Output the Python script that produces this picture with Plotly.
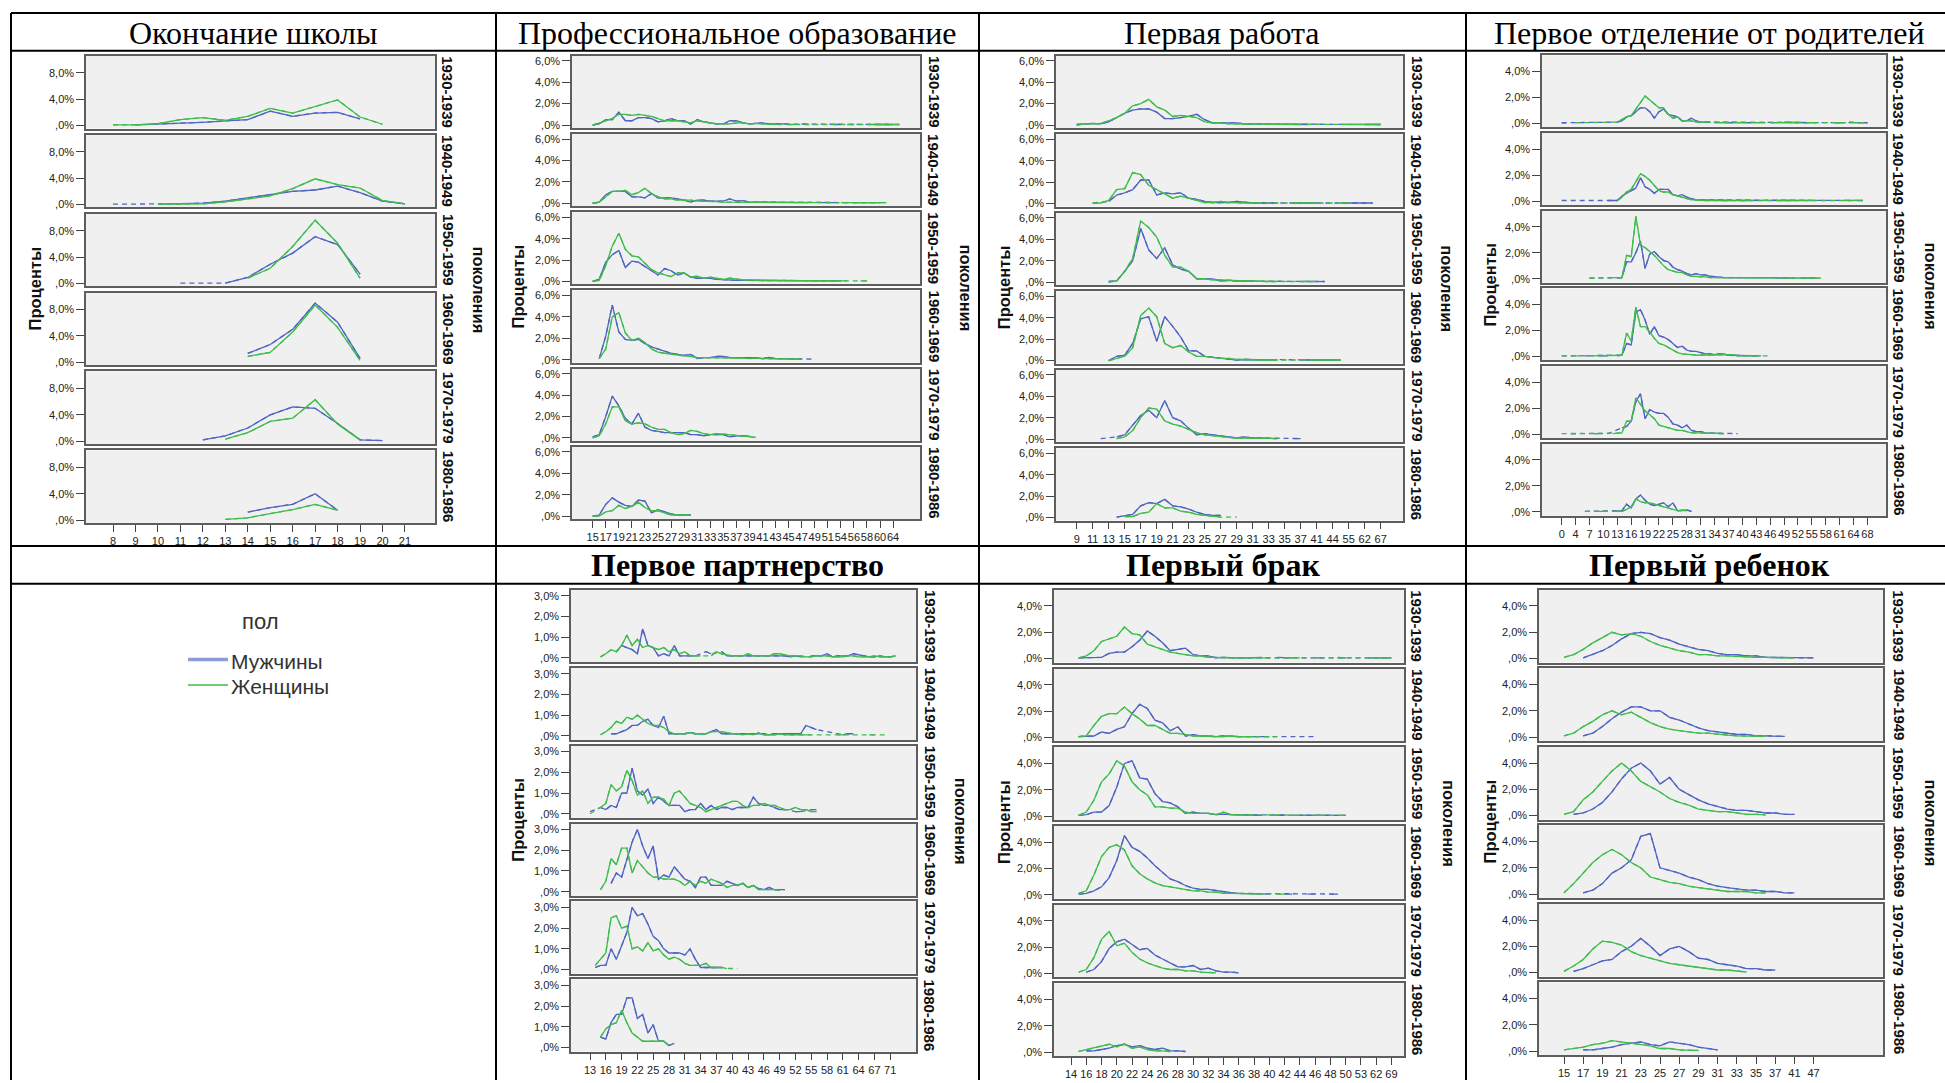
import plotly.graph_objects as go

W, H = 1945, 1083
N = None

COHORTS = ["1930-1939", "1940-1949", "1950-1959", "1960-1969", "1970-1979", "1980-1986"]
SEX_NAMES = ["Мужчины", "Женщины"]
LEGEND_TITLE = "пол"
Y_TITLE = "Проценты"
ROW_TITLE = "поколения"
MALE_COLOR = "#5165c3"
FEMALE_COLOR = "#3fbd4c"

# ---------------- Окончание школы ----------------
SCHOOL_AGES = [8, 9, 10, 11, 12, 13, 14, 15, 16, 17, 18, 19, 20, 21]
SCHOOL_M = [
    [N, 0.1, 0.2, 0.3, 0.5, 0.7, 0.9, 2.2, 1.4, 1.9, 2.0, 1.0],
    [0.05, N, 0.05, 0.1, 0.2, 0.5, 1.0, 1.5, 2.0, 2.2, 2.8, 1.8, 0.5, 0.1],
    [N, N, N, 0.05, N, 0.05, 0.9, 2.9, 4.6, 7.1, 5.9, 1.4],
    [N, N, N, N, N, N, 1.35, 2.7, 5.0, 9.0, 6.1, 0.6],
    [N, N, N, N, 0.2, 0.8, 2.0, 4.0, 5.2, 5.0, 2.7, 0.2, 0.1],
    [N, N, N, N, N, N, 1.2, 1.9, 2.4, 4.0, 1.5],
]
SCHOOL_F = [
    [0.1, 0.1, 0.3, 0.9, 1.2, 0.8, 1.4, 2.6, 1.9, 2.9, 3.9, 1.3, 0.2],
    [N, N, 0.05, 0.05, 0.1, 0.4, 0.8, 1.3, 2.4, 3.9, 3.0, 2.5, 0.6, 0.1],
    [N, N, N, N, N, N, 0.8, 2.3, 5.6, 9.6, 6.1, 0.8],
    [N, N, N, N, N, N, 0.9, 1.5, 4.6, 8.7, 5.3, 0.3],
    [N, N, N, N, N, 0.3, 1.3, 3.0, 3.5, 6.3, 2.6, 0.2],
    [N, N, N, N, N, 0.1, 0.35, 1.0, 1.6, 2.4, 1.5],
]

# ---------------- Профессиональное образование ----------------
PROF_AGES = [15, 16, 17, 18, 19, 20, 21, 22, 23, 24, 25, 26, 27, 28, 29, 30, 31, 32, 33, 34,
             35, 36, 37, 38, 39, 40, 41, 42, 43, 44, 45, 46, 47, 48, 49, 50, 51, 52, 54, 55,
             56, 57, 58, 59, 60, 62, 64, 66]
PROF_M = [
    [0.0, 0.1, 0.5, 0.5, 1.2, 0.4, 0.4, 0.7, 0.7, 0.6,
     0.3, 0.4, 0.6, 0.4, 0.4, 0.1, 0.5, 0.3, 0.2, 0.1,
     0.1, 0.4, 0.4, 0.2, 0.1, 0.15, 0.2, 0.1, 0.1, 0.1,
     0.1, N, 0.1, 0.05, N, N, N, 0.05, 0.05, N,
     N, N, N, 0.05, 0.05, 0.05, 0.05],
    [0.0, 0.1, 0.8, 1.1, 1.1, 1.1, 0.6, 0.6, 0.5, 0.9,
     0.5, 0.5, 0.5, 0.4, 0.3, 0.1, 0.3, 0.3, 0.2, 0.2,
     0.2, 0.4, 0.2, 0.25, 0.1, 0.1, 0.1, 0.05, 0.1, 0.05,
     0.05, 0.05, 0.05, 0.05, N, 0.05, 0.05, 0.05, N, N,
     0.05, 0.05, 0.05, 0.05, 0.05],
    [0.0, 0.2, 1.8, 2.5, 2.9, 1.3, 1.9, 1.8, 1.4, 1.0,
     0.6, 1.2, 1.0, 0.6, 0.8, 0.4, 0.3, 0.3, 0.3, 0.2,
     0.15, 0.15, 0.1, 0.1, 0.1, 0.1, 0.1, 0.1, 0.05, 0.1,
     0.05, 0.1, 0.05, 0.05, 0.05, 0.05, 0.05, 0.05, 0.05],
    [N, 0.1, 2.2, 5.1, 2.6, 1.9, 1.8, 1.9, 1.5, 1.2,
     1.0, 0.8, 0.6, 0.5, 0.4, 0.5, 0.1, 0.2, 0.2, 0.3,
     0.3, 0.2, 0.2, 0.2, 0.25, 0.2, 0.1, 0.2, 0.1, 0.1,
     0.1, 0.1, 0.05, N, 0.05],
    [0.1, 0.3, 2.0, 3.9, 3.0, 1.8, 1.3, 2.3, 1.0, 0.7,
     0.6, 0.5, 0.5, 0.5, 0.5, 0.3, 0.3, 0.2, 0.3, 0.3,
     0.3, 0.1, 0.2, 0.2, 0.15],
    [0.0, 0.1, 1.1, 1.7, 1.3, 1.0, 0.9, 1.5, 1.4, 0.3,
     0.6, 0.4, 0.2, 0.1, 0.1, 0.1],
]
PROF_F = [
    [0.0, 0.2, 0.4, 0.6, 1.0, 1.0, 0.9, 1.0, 0.9, 0.8,
     0.6, 0.4, 0.4, 0.4, 0.3, 0.2, 0.4, 0.3, 0.2, 0.1,
     0.1, 0.1, 0.2, 0.2, 0.1, 0.15, 0.1, 0.05, 0.05, N,
     0.05, 0.05, N, 0.05, N, N, N, N, N, 0.05,
     0.05, N, 0.05, 0.05, 0.05, 0.05, 0.05, 0.05],
    [0.0, 0.1, 0.6, 1.1, 1.1, 1.2, 0.8, 1.0, 1.4, 0.9,
     0.6, 0.4, 0.4, 0.3, 0.3, 0.3, 0.2, 0.2, 0.2, 0.15,
     0.1, 0.1, 0.1, 0.1, 0.05, 0.05, 0.05, 0.05, 0.05, 0.05,
     0.05, 0.05, 0.05, 0.05, 0.05, 0.05, N, N, 0.05, 0.05,
     0.05, 0.05, 0.05, 0.05, 0.05, 0.05],
    [0.0, 0.1, 1.5, 3.3, 4.5, 3.0, 2.4, 2.3, 1.7, 1.1,
     0.8, 0.6, 0.45, 0.8, 0.8, 0.4, 0.5, 0.3, 0.4, 0.3,
     0.2, 0.3, 0.2, 0.15, 0.15, 0.1, 0.1, 0.1, 0.1, 0.1,
     0.1, 0.1, 0.1, 0.05, 0.05, 0.05, 0.05, 0.05, 0.05, 0.05,
     N, 0.05, 0.05],
    [N, 0.1, 1.0, 4.0, 4.4, 2.5, 1.8, 2.0, 1.6, 1.0,
     0.7, 0.6, 0.5, 0.4, 0.35, 0.3, 0.2, 0.2, 0.2, 0.2,
     0.2, 0.15, 0.2, 0.15, 0.1, 0.15, 0.1, 0.1, 0.05, 0.1,
     0.05, 0.05, 0.05],
    [0.0, 0.2, 1.3, 2.9, 2.9, 1.6, 1.3, 1.4, 1.3, 1.0,
     0.8, 0.8, 0.5, 0.3, 0.4, 0.7, 0.6, 0.4, 0.3, 0.4,
     0.35, 0.3, 0.2, 0.15, 0.1, 0.05],
    [0.0, 0.0, 0.4, 0.5, 1.0, 0.7, 0.9, 1.3, 0.8, 0.5,
     0.5, 0.3, 0.1, 0.1, 0.1, 0.1],
]

# ---------------- Первая работа ----------------
WORK_AGES = [9, 10, 11, 12, 13, 14, 15, 16, 17, 18, 19, 20, 21, 22, 23, 24, 25, 26, 27, 28,
             29, 30, 31, 32, 33, 34, 35, 36, 37, 39, 41, 42, 44, 50, 55, 59, 62, 64, 67]
WORK_M = [
    [0.05, 0.1, 0.15, 0.1, 0.3, 0.7, 1.1, 1.4, 1.5, 1.5,
     1.2, 0.6, 0.6, 0.7, 0.8, 1.0, 0.5, 0.2, 0.2, 0.2,
     0.2, 0.1, 0.1, 0.1, 0.05, 0.1, 0.05, 0.05, 0.05, 0.05,
     N, N, N, N, 0.05, N, 0.05, 0.05, 0.05],
    [N, N, 0.05, N, 0.2, 0.8, 1.0, 1.3, 2.2, 2.2,
     0.8, 1.0, 0.9, 1.0, 0.5, 0.4, 0.2, 0.1, 0.1, 0.1,
     0.2, 0.1, 0.05, 0.05, 0.05, 0.05, N, 0.05, 0.05, 0.05,
     0.05, N, N, 0.05, 0.05, 0.05, 0.05, 0.05],
    [N, N, N, N, 0.05, 0.1, 1.0, 2.0, 5.0, 3.0,
     2.2, 3.2, 1.6, 1.2, 1.0, 0.3, 0.3, 0.3, 0.1, 0.15,
     0.1, 0.1, 0.1, N, N, N, N, N, 0.05, 0.05,
     0.05, 0.05],
    [N, N, N, N, 0.0, 0.4, 0.5, 1.6, 3.9, 4.1,
     1.8, 4.1, 3.2, 2.2, 0.9, 0.9, 0.4, 0.3, 0.2, 0.1,
     0.05, 0.1, 0.1, 0.05, 0.05, 0.05, N, N, 0.05, 0.05,
     0.05, 0.05, 0.05, 0.05],
    [N, N, N, 0.05, N, 0.2, 0.4, 1.3, 2.2, 2.7,
     2.0, 3.6, 2.0, 1.7, 1.0, 0.4, 0.5, 0.4, 0.3, 0.2,
     0.1, 0.2, 0.1, 0.1, 0.1, 0.05, N, 0.05, 0.05],
    [N, N, N, N, N, 0.05, 0.2, 0.3, 1.1, 1.4,
     1.3, 1.7, 1.1, 1.0, 0.8, 0.5, 0.3, 0.2, 0.2],
]
WORK_F = [
    [0.0, 0.1, 0.1, 0.15, 0.4, 0.7, 1.1, 1.8, 2.0, 2.4,
     1.7, 1.4, 0.8, 0.9, 0.8, 0.7, 0.3, 0.2, 0.2, 0.1,
     0.1, 0.1, 0.05, 0.05, 0.05, 0.05, 0.05, 0.05, 0.05, N,
     0.05, N, N, 0.05, 0.05, 0.05, 0.05, 0.05, 0.05],
    [N, N, 0.05, 0.05, 0.3, 1.3, 1.4, 2.9, 2.7, 1.7,
     1.3, 0.9, 0.5, 0.7, 0.5, 0.3, 0.1, 0.1, 0.2, 0.1,
     0.05, 0.05, 0.05, 0.05, N, 0.05, N, 0.05, 0.05, 0.05,
     0.05, N, N, 0.05, 0.05],
    [N, N, N, N, 0.0, 0.1, 1.0, 2.2, 5.7, 5.1,
     4.2, 2.5, 1.4, 1.4, 1.0, 0.3, 0.3, 0.2, 0.2, 0.15,
     0.1, 0.1, 0.1, 0.05, 0.05, 0.05, N, N, 0.05, 0.05,
     0.05],
    [N, N, N, N, 0.0, 0.2, 0.4, 1.2, 4.2, 4.9,
     4.1, 1.6, 1.2, 1.4, 0.8, 0.4, 0.4, 0.3, 0.2, 0.2,
     0.1, 0.1, 0.05, 0.05, 0.05, 0.05, N, N, N, 0.05,
     0.05, 0.05, 0.05, 0.05],
    [N, N, N, N, N, 0.05, 0.2, 0.8, 2.0, 2.9,
     2.8, 1.7, 1.4, 1.2, 0.9, 0.6, 0.4, 0.3, 0.2, 0.15,
     0.1, 0.1, 0.05, 0.05, 0.05, 0.05],
    [N, N, N, N, N, N, 0.1, 0.1, 0.4, 0.5,
     1.3, 0.9, 0.9, 0.6, 0.5, 0.3, 0.2, 0.1, 0.05, N,
     0.05],
]

# ---------------- Первое отделение от родителей ----------------
SEP_AGES = [0, 2, 3, 4, 5, 6, 7, 8, 9, 10, 11, 12, 13, 14, 15, 16, 17, 18, 19, 20,
            21, 22, 23, 24, 25, 26, 27, 28, 29, 30, 31, 32, 33, 34, 35, 36, 37, 38, 39, 40,
            41, 42, 43, 44, 45, 46, 47, 48, 49, 50, 51, 52, 53, 54, 55, 56, 57, 58, 59, 60,
            61, 62, 63, 64, 65, 66, 68]
SEP_M = [
    [0.05, 0.05, N, N, 0.05, N, N, N, N, N,
     0.05, N, 0.1, 0.2, 0.5, 0.6, 0.9, 1.2, 1.2, 0.9,
     0.4, 0.9, 1.1, 0.7, 0.6, 0.5, 0.2, 0.2, 0.4, 0.2,
     0.1, 0.1, 0.1, N, N, 0.05, 0.05, 0.05, N, 0.05,
     0.05, 0.05, N, 0.05, N, 0.05, 0.05, N, 0.1, 0.1,
     0.05, 0.05, 0.05, 0.05, N, N, 0.05, N, N, 0.05,
     0.05, N, 0.1, 0.1, N, 0.05, 0.05],
    [0.05, N, N, 0.05, N, N, 0.05, N, N, N,
     0.05, 0.05, 0.05, 0.4, 0.6, 0.8, 1.0, 1.8, 1.1, 0.9,
     0.6, 0.9, 0.9, 0.9, 0.5, 0.4, 0.5, 0.3, 0.2, 0.1,
     0.1, 0.1, 0.05, 0.05, 0.05, 0.1, 0.05, N, 0.05, 0.05,
     0.05, 0.05, 0.05, 0.05, N, 0.05, 0.05, 0.1, 0.05, 0.05,
     0.05, N, 0.05, N, 0.05, 0.05, N, 0.05, N, 0.05,
     N, 0.05, 0.05, N, 0.05, 0.05],
    [N, N, N, N, N, N, 0.05, N, N, N,
     N, N, 0.05, 0.1, 1.3, 1.3, 2.0, 2.9, 0.8, 1.9,
     2.1, 1.7, 1.4, 1.3, 0.9, 0.7, 0.6, 0.4, 0.3, 0.4,
     0.3, 0.3, 0.2, 0.15, 0.1, 0.1, 0.1, 0.1, 0.1, 0.1,
     0.15, 0.1, 0.1, 0.1, 0.1, 0.1, 0.1, 0.05, 0.1, 0.05,
     0.05, N, 0.05, 0.05, 0.05, 0.05],
    [0.05, N, N, 0.05, N, 0.05, 0.05, N, 0.05, 0.05,
     0.05, N, 0.05, 0.1, 1.0, 0.9, 3.4, 3.6, 2.8, 1.7,
     2.3, 1.6, 1.5, 1.3, 1.0, 0.7, 0.8, 0.5, 0.4, 0.4,
     0.3, 0.2, 0.2, 0.15, 0.2, 0.2, 0.1, 0.1, 0.1, 0.1,
     0.05, 0.05, 0.05, 0.05],
    [N, N, 0.05, 0.05, N, N, N, 0.05, 0.05, N,
     0.05, N, N, 0.5, 0.6, 1.0, 2.5, 3.1, 1.2, 1.9,
     1.7, 1.6, 1.6, 1.3, 0.8, 0.7, 0.5, 0.7, 0.3, 0.2,
     0.2, 0.1, 0.1, 0.1, 0.05, 0.05, N, N, 0.05],
    [N, N, N, N, N, 0.05, N, N, N, 0.05,
     N, 0.05, 0.05, 0.1, 0.6, 0.3, 1.0, 1.3, 0.9, 0.6,
     0.5, 0.6, 0.7, 0.4, 0.7, 0.1, 0.1, 0.15, 0.05],
]
SEP_F = [
    [N, N, N, 0.05, N, 0.05, N, 0.05, N, 0.05,
     N, N, 0.1, 0.3, 0.5, 0.6, 1.1, 1.6, 2.1, 1.8,
     1.5, 1.2, 1.2, 0.7, 0.4, 0.5, 0.2, 0.2, 0.2, 0.1,
     0.1, 0.1, N, 0.05, 0.05, 0.05, N, 0.05, 0.05, 0.05,
     N, 0.05, 0.05, 0.05, 0.05, N, 0.05, 0.05, 0.05, 0.05,
     0.05, 0.05, N, 0.05, 0.05, 0.05, N, 0.05, N, 0.05,
     0.05, 0.05, N, 0.05, 0.05, N, 0.05],
    [N, N, N, N, N, N, N, N, N, N,
     N, N, 0.05, 0.3, 0.7, 0.9, 1.5, 2.1, 1.9, 1.6,
     1.2, 0.8, 0.7, 0.7, 0.5, 0.4, 0.3, 0.2, 0.1, 0.1,
     0.05, 0.05, 0.05, 0.05, 0.05, 0.05, 0.05, 0.05, 0.05, 0.05,
     0.05, 0.05, N, 0.05, 0.05, 0.05, N, 0.05, 0.05, 0.05,
     0.05, 0.05, 0.05, 0.05, 0.05, N, 0.05, 0.05, N, 0.05,
     N, 0.05, 0.05, 0.05, 0.05, 0.05],
    [N, N, N, N, N, N, 0.05, 0.05, N, N,
     N, 0.1, 0.1, 0.1, 1.8, 1.7, 4.8, 2.6, 2.4, 2.1,
     1.8, 1.4, 1.0, 0.7, 0.6, 0.5, 0.5, 0.3, 0.2, 0.2,
     0.2, 0.15, 0.1, 0.1, 0.1, 0.1, 0.1, 0.1, 0.1, 0.1,
     0.1, 0.1, 0.1, 0.05, 0.05, 0.05, 0.05, 0.05, 0.05, 0.05,
     0.05, 0.05, 0.05, 0.05, 0.05, 0.05, 0.05],
    [0.05, N, N, 0.05, 0.05, N, 0.05, 0.05, 0.05, 0.05,
     0.05, 0.05, 0.05, 0.1, 1.8, 1.2, 3.8, 2.3, 2.3, 1.9,
     1.4, 1.0, 0.9, 0.7, 0.5, 0.3, 0.2, 0.2, 0.15, 0.1,
     0.1, 0.1, 0.1, 0.1, 0.1, 0.1, 0.1, 0.15, 0.05, 0.05,
     0.05, 0.05, 0.05, N, N, 0.05],
    [0.05, N, 0.05, 0.05, N, 0.05, N, 0.05, 0.05, N,
     N, 0.05, 0.05, 0.1, 1.0, 1.0, 2.8, 2.3, 1.8, 1.5,
     1.2, 0.7, 0.6, 0.5, 0.4, 0.3, 0.3, 0.2, 0.1, 0.1,
     0.1, 0.05, 0.05, 0.05, 0.05, 0.05],
    [N, N, N, N, N, 0.05, N, N, 0.05, 0.05,
     N, 0.05, 0.05, 0.05, 0.2, 0.4, 1.0, 0.8, 0.7, 0.7,
     0.6, 0.5, 0.4, 0.3, 0.2, 0.1, 0.1, 0.1],
]

# ---------------- Первое партнерство ----------------
PART_AGES = [13, 14, 15, 16, 17, 18, 19, 20, 21, 22, 23, 24, 25, 26, 27, 28, 29, 30, 31, 32,
             33, 34, 35, 36, 37, 38, 39, 40, 41, 42, 43, 44, 45, 46, 47, 48, 49, 50, 51, 52,
             53, 54, 55, 56, 57, 58, 59, 60, 61, 62, 63, 64, 65, 66, 67, 68, 69, 71, 73]
PART_M = [
    [N, N, N, N, N, 0.3, 0.6, 0.5, 0.4, 0.2,
     1.4, 0.6, 0.5, 0.1, 0.2, 0.1, 0.6, 0.1, 0.1, 0.1,
     0.1, N, 0.3, 0.2, N, 0.3, 0.1, 0.1, 0.1, 0.1,
     0.1, 0.1, 0.1, 0.1, 0.1, 0.1, 0.1, 0.1, 0.05, 0.1,
     0.05, N, 0.1, 0.1, 0.1, 0.2, 0.05, 0.1, 0.1, 0.1,
     0.2, 0.15, 0.1, 0.05, 0.05, 0.1, 0.05, 0.05, 0.1],
    [N, N, N, N, 0.1, 0.1, 0.2, 0.3, 0.5, 0.5,
     0.7, 0.8, 0.5, 0.4, 0.95, 0.1, 0.1, 0.1, 0.1, 0.15,
     0.1, 0.1, 0.1, 0.2, 0.3, 0.1, 0.1, 0.1, 0.1, 0.1,
     0.1, 0.1, 0.1, 0.1, 0.05, 0.1, 0.1, 0.1, 0.1, 0.1,
     0.1, 0.5, 0.4, 0.3, N, N, N, N, 0.05, 0.1,
     0.1],
    [0.1, N, 0.3, 0.2, 0.4, 0.3, 1.0, 1.0, 2.2, 1.1,
     0.9, 1.2, 0.5, 0.8, 0.6, 0.4, 0.4, 0.4, 0.1, 0.2,
     0.2, 0.5, 0.2, 0.4, 0.2, 0.3, 0.3, 0.2, 0.3, 0.3,
     0.3, 0.8, 0.5, 0.4, 0.4, 0.3, 0.2, 0.2, N, 0.1,
     0.1, N, 0.2, 0.2],
    [N, N, N, N, 0.4, 0.9, 0.7, 1.5, 2.4, 3.0,
     2.2, 1.6, 2.2, 0.6, 0.8, 0.7, 1.2, 0.9, 0.6, 0.5,
     0.2, 0.7, 0.7, 0.3, 0.3, 0.3, 0.5, 0.4, 0.3, 0.4,
     0.2, 0.3, 0.15, 0.1, 0.2, 0.1, 0.1, 0.1],
    [N, 0.1, 0.2, 0.2, 1.0, 0.5, 1.2, 1.8, 3.0, 2.6,
     2.7, 2.2, 1.6, 1.4, 1.0, 0.8, 0.8, 0.8, 0.7, 1.0,
     0.5, 0.1, 0.1, 0.1, 0.1, 0.1],
    [N, N, 0.5, 0.4, 1.2, 1.6, 1.6, 2.4, 2.4, 1.4,
     1.6, 0.7, 1.1, 0.3, 0.3, 0.1, 0.2],
]
PART_F = [
    [N, N, 0.05, 0.2, 0.4, 0.3, 0.6, 1.1, 0.6, 0.9,
     0.5, 0.6, 0.5, 0.4, 0.5, 0.3, 0.4, 0.2, 0.3, 0.1,
     0.1, 0.1, N, 0.1, 0.3, 0.2, 0.15, 0.1, 0.1, 0.1,
     0.2, 0.1, 0.1, 0.1, 0.1, 0.2, 0.2, 0.15, 0.1, 0.1,
     0.1, 0.05, 0.05, 0.1, 0.1, 0.1, 0.05, 0.05, 0.05, 0.1,
     0.1, 0.05, 0.05, 0.05, 0.1, 0.05, 0.05, 0.05, 0.1],
    [N, N, 0.05, 0.2, 0.4, 0.7, 0.6, 0.9, 0.8, 1.0,
     0.8, 0.6, 0.5, 0.5, 0.4, 0.2, 0.1, 0.1, 0.1, 0.15,
     0.1, 0.1, 0.1, 0.2, 0.2, 0.2, 0.15, 0.1, 0.1, 0.05,
     0.1, 0.05, 0.15, 0.05, 0.05, 0.05, 0.1, 0.05, 0.05, 0.05,
     0.05, 0.05, 0.05, N, N, 0.05, N, 0.05, 0.05, N,
     N, 0.05, N, 0.05, 0.05, N, 0.05],
    [0.0, N, 0.3, 0.5, 1.4, 1.1, 1.3, 2.1, 1.6, 0.9,
     1.1, 0.5, 0.8, 0.8, 0.7, 0.4, 1.0, 1.1, 0.8, 0.5,
     0.4, 0.3, 0.1, 0.2, 0.3, 0.4, 0.5, 0.6, 0.6, 0.4,
     0.3, 0.4, 0.4, 0.5, 0.4, 0.4, 0.3, 0.2, 0.2, 0.3,
     0.2, 0.2, 0.1, 0.1],
    [N, N, 0.1, 0.5, 1.6, 1.3, 2.1, 2.1, 0.9, 1.5,
     1.2, 0.9, 0.7, 0.7, 0.6, 0.6, 0.6, 0.5, 0.3, 0.5,
     0.3, 0.5, 0.4, 0.6, 0.5, 0.4, 0.2, 0.3, 0.3, 0.4,
     0.2, 0.3, 0.1, 0.1, 0.1, 0.1, 0.05],
    [N, 0.2, 0.5, 0.8, 2.5, 2.6, 2.0, 2.1, 1.0, 1.1,
     0.9, 1.3, 0.9, 1.0, 0.7, 0.5, 0.6, 0.5, 0.3, 0.2,
     0.2, 0.2, 0.3, 0.1, 0.1, 0.1, 0.05, N, 0.05],
    [N, N, 0.5, 0.9, 1.1, 1.2, 1.8, 1.2, 0.7, 0.5,
     0.3, 0.3, 0.3, 0.3, 0.3, 0.1],
]

# ---------------- Первый брак ----------------
MAR_AGES = [14, 15, 16, 17, 18, 19, 20, 21, 22, 23, 24, 25, 26, 27, 28, 29, 30, 31, 32, 33,
            34, 35, 36, 37, 38, 39, 40, 41, 42, 43, 44, 45, 46, 47, 48, 49, 50, 52, 53, 56,
            62, 65, 69]
MAR_M = [
    [N, 0.05, 0.05, 0.05, 0.1, 0.4, 0.5, 0.5, 0.9, 1.4,
     2.1, 1.7, 1.2, 0.6, 0.7, 0.8, 0.3, 0.2, 0.2, 0.05,
     0.1, 0.05, 0.05, 0.05, 0.05, 0.1, N, 0.1, 0.05, 0.05,
     N, N, 0.05, 0.05, N, 0.1, 0.05, N, N, 0.05,
     0.05, 0.05, 0.05],
    [N, 0.05, 0.05, 0.1, 0.4, 0.3, 0.6, 0.8, 1.8, 2.5,
     2.2, 1.3, 1.1, 0.5, 0.8, 0.1, 0.2, 0.1, 0.1, 0.05,
     0.1, 0.05, 0.05, 0.05, 0.05, 0.05, 0.05, N, N, 0.05,
     N, N, 0.05],
    [N, 0.05, 0.1, 0.3, 0.3, 0.8, 2.2, 4.0, 4.2, 2.9,
     2.8, 1.7, 1.1, 1.0, 0.7, 0.2, 0.3, 0.2, 0.2, 0.1,
     0.15, 0.1, 0.1, 0.1, 0.05, 0.05, N, 0.05, 0.05, N,
     0.05, 0.05, 0.05, 0.05, 0.05, 0.05, 0.05],
    [N, 0.05, 0.1, 0.3, 0.6, 1.3, 2.6, 4.5, 3.6, 3.3,
     2.8, 2.2, 1.7, 1.2, 1.0, 0.7, 0.5, 0.4, 0.4, 0.3,
     0.2, 0.15, 0.1, 0.1, 0.1, 0.05, 0.05, N, 0.05, 0.05,
     N, 0.05, 0.05, N, 0.05, 0.05],
    [N, N, 0.1, 0.3, 0.9, 1.9, 2.4, 2.6, 2.2, 1.8,
     1.9, 1.4, 1.1, 0.8, 0.5, 0.5, 0.6, 0.3, 0.4, 0.2,
     0.1, 0.1, 0.05],
    [N, N, 0.1, 0.1, 0.2, 0.3, 0.5, 0.6, 0.4, 0.5,
     0.3, 0.2, 0.3, 0.1, 0.1, 0.05],
]
MAR_F = [
    [N, 0.05, 0.2, 0.6, 1.3, 1.5, 1.7, 2.4, 1.9, 1.8,
     1.1, 0.9, 0.7, 0.5, 0.4, 0.3, 0.2, 0.2, 0.1, 0.1,
     0.05, 0.05, 0.05, 0.05, 0.05, 0.05, 0.05, N, 0.05, 0.05,
     0.05, N, 0.05, N, N, 0.05, 0.05, N, N, 0.05,
     0.05, 0.05, 0.05],
    [N, 0.05, 0.1, 0.9, 1.6, 1.8, 1.8, 2.3, 1.8, 1.4,
     0.9, 0.9, 0.6, 0.3, 0.3, 0.2, 0.1, 0.1, 0.05, 0.05,
     0.05, 0.1, 0.05, 0.05, 0.05, N, N, 0.05],
    [N, 0.05, 0.3, 1.2, 2.6, 3.2, 4.2, 3.8, 2.6, 2.0,
     1.6, 0.7, 0.7, 0.6, 0.6, 0.3, 0.2, 0.2, 0.2, 0.1,
     0.3, 0.1, 0.1, 0.05, 0.05, N, 0.05, 0.05, N, 0.05,
     0.05, N, 0.05, 0.05, N, 0.05, 0.05],
    [N, 0.1, 0.3, 1.5, 2.9, 3.6, 3.8, 3.4, 2.2, 1.6,
     1.2, 0.9, 0.7, 0.6, 0.5, 0.4, 0.3, 0.3, 0.2, 0.2,
     0.1, 0.1, 0.1, 0.05, 0.05, 0.05, N, 0.05, 0.05],
    [N, 0.1, 0.3, 1.2, 2.6, 3.2, 2.1, 2.3, 1.6, 1.1,
     0.8, 0.6, 0.4, 0.3, 0.3, 0.2, 0.2, 0.1, 0.1, 0.05],
    [N, 0.05, 0.2, 0.3, 0.5, 0.6, 0.4, 0.6, 0.3, 0.4,
     0.2, 0.1, 0.1, 0.05],
]

# ---------------- Первый ребенок ----------------
CHILD_AGES = [15, 16, 17, 18, 19, 20, 21, 22, 23, 24, 25, 26, 27, 28, 29, 30, 31, 32, 33, 34,
              35, 36, 37, 39, 41, 44, 47]
CHILD_M = [
    [N, N, 0.05, 0.3, 0.6, 1.0, 1.5, 1.9, 2.0, 1.9,
     1.6, 1.4, 1.1, 0.9, 0.7, 0.6, 0.4, 0.3, 0.3, 0.2,
     0.2, 0.1, 0.1, 0.1, 0.1, 0.05, 0.05],
    [N, N, 0.1, 0.3, 0.8, 1.4, 1.9, 2.3, 2.3, 2.0,
     2.0, 1.5, 1.3, 1.0, 0.7, 0.5, 0.4, 0.3, 0.2, 0.2,
     0.1, 0.1, 0.1, 0.05],
    [N, 0.1, 0.2, 0.5, 1.0, 1.8, 2.8, 3.6, 4.0, 3.4,
     2.4, 2.9, 2.0, 1.6, 1.2, 0.9, 0.7, 0.5, 0.4, 0.4,
     0.3, 0.2, 0.2, 0.1, 0.1],
    [N, N, 0.1, 0.3, 0.8, 1.6, 2.0, 2.6, 4.4, 4.6,
     2.0, 1.8, 1.6, 1.3, 1.1, 0.8, 0.6, 0.5, 0.4, 0.3,
     0.3, 0.2, 0.2, 0.1, 0.1],
    [N, 0.1, 0.3, 0.6, 0.9, 1.0, 1.6, 2.0, 2.6, 2.0,
     1.3, 1.8, 2.0, 1.6, 1.1, 1.0, 0.7, 0.6, 0.5, 0.3,
     0.3, 0.2, 0.2],
    [N, N, 0.1, 0.1, 0.2, 0.3, 0.5, 0.6, 0.7, 0.5,
     0.4, 0.7, 0.6, 0.5, 0.3, 0.2, 0.1],
]
CHILD_F = [
    [0.1, 0.3, 0.7, 1.2, 1.6, 2.0, 1.8, 1.9, 1.7, 1.3,
     1.0, 0.8, 0.6, 0.5, 0.3, 0.3, 0.2, 0.2, 0.15, 0.1,
     0.1, 0.1, 0.05, 0.05, 0.05],
    [0.1, 0.3, 0.8, 1.2, 1.7, 2.0, 1.7, 1.9, 1.5, 1.1,
     0.8, 0.6, 0.5, 0.4, 0.3, 0.3, 0.2, 0.15, 0.1, 0.1,
     0.05, 0.05],
    [0.1, 0.3, 1.2, 1.8, 2.6, 3.4, 4.0, 3.4, 2.6, 2.2,
     1.8, 1.3, 1.0, 0.8, 0.5, 0.4, 0.3, 0.3, 0.2, 0.1,
     0.1, 0.05],
    [0.1, 0.8, 1.6, 2.4, 3.0, 3.4, 3.0, 2.4, 2.0, 1.3,
     1.1, 0.9, 0.8, 0.6, 0.5, 0.4, 0.3, 0.2, 0.2, 0.2,
     0.1, 0.1],
    [0.1, 0.5, 1.0, 1.8, 2.4, 2.3, 2.1, 1.6, 1.3, 1.1,
     0.9, 0.7, 0.6, 0.5, 0.4, 0.3, 0.2, 0.2, 0.1, 0.05],
    [0.1, 0.2, 0.3, 0.5, 0.6, 0.8, 0.7, 0.6, 0.5, 0.4,
     0.2, 0.2, 0.1, 0.1, 0.05],
]

# ---------------- layout description (pixel geometry) ----------------
PANELS = [
    dict(title="Окончание школы", bold=False, ages=SCHOOL_AGES, m=SCHOOL_M, f=SCHOOL_F, every=1,
         x0=86, x1=435, first=113, step=22.46, top=55, gap=79.2, h=73,
         yticks=[0, 4, 8], yr=[-0.45, 10.6], lab_x=448, pok_x=479, proc_x=35, tx=253.5, ty=32),
    dict(title="Профессиональное образование", bold=False, ages=PROF_AGES, m=PROF_M, f=PROF_F, every=2,
         x0=572, x1=920, first=592.7, step=6.53, top=55, gap=78.5, h=72.5,
         yticks=[0, 2, 4, 6], yr=[-0.28, 6.47], lab_x=934, pok_x=966, proc_x=518, tx=737, ty=32),
    dict(title="Первая работа", bold=False, ages=WORK_AGES, m=WORK_M, f=WORK_F, every=2,
         x0=1056, x1=1403, first=1076.7, step=8.0, top=55, gap=78.8, h=72.5,
         yticks=[0, 2, 4, 6], yr=[-0.28, 6.47], lab_x=1417, pok_x=1447, proc_x=1004, tx=1222, ty=32),
    dict(title="Первое отделение от родителей", bold=False, ages=SEP_AGES, m=SEP_M, f=SEP_F, every=3,
         x0=1542, x1=1886, first=1561.7, step=4.633, top=54.5, gap=78.0, h=72.3,
         yticks=[0, 2, 4], yr=[-0.3, 5.23], lab_x=1899, pok_x=1931, proc_x=1490, tx=1709, ty=32),
    dict(title="Первое партнерство", bold=True, ages=PART_AGES, m=PART_M, f=PART_F, every=3,
         x0=571, x1=916, first=590, step=5.267, top=591, gap=78.2, h=72.5,
         yticks=[0, 1, 2, 3], yr=[-0.2, 3.29], lab_x=930, pok_x=961, proc_x=518, tx=737, ty=566),
    dict(title="Первый брак", bold=True, ages=MAR_AGES, m=MAR_M, f=MAR_F, every=2,
         x0=1054, x1=1404, first=1071, step=7.63, top=591, gap=79.0, h=73,
         yticks=[0, 2, 4], yr=[-0.3, 5.23], lab_x=1417, pok_x=1449, proc_x=1004, tx=1223, ty=566),
    dict(title="Первый ребенок", bold=True, ages=CHILD_AGES, m=CHILD_M, f=CHILD_F, every=2,
         x0=1539, x1=1883, first=1564, step=9.6, top=591, gap=78.8, h=73,
         yticks=[0, 2, 4], yr=[-0.3, 5.23], lab_x=1899, pok_x=1931, proc_x=1490, tx=1709, ty=566),
]


def px(x):
    return x / W


def py(y):
    return 1 - y / H


def pct(v):
    s = f"{v:.1f}".replace(".", ",")
    if s.startswith("0"):
        s = s[1:]
    return s + "%"


fig = go.Figure()
layout = dict(
    width=W, height=H, autosize=False,
    margin=dict(l=0, r=0, t=0, b=0, pad=0),
    paper_bgcolor="white", plot_bgcolor="#f0f0f0",
    showlegend=False,
    font=dict(family="Liberation Sans, Arial, sans-serif", size=11, color="#222"),
)
annotations = []
shapes = []

AX_LINE = "#5e5e5e"
k = 0
for p in PANELS:
    n = len(p["ages"])
    idx = list(range(n))
    tickvals = [i for i in idx if i % p["every"] == 0]
    ticktext = [str(p["ages"][i]) for i in tickvals]
    xr = [(p["x0"] - p["first"]) / p["step"], (p["x1"] - p["first"]) / p["step"]]
    for c in range(6):
        k += 1
        xname = "x" if k == 1 else f"x{k}"
        yname = "y" if k == 1 else f"y{k}"
        top = p["top"] + c * p["gap"]
        bot = top + p["h"]
        xa = dict(domain=[px(p["x0"]), px(p["x1"])], range=xr, anchor=yname,
                  showline=True, mirror=True, linecolor=AX_LINE, linewidth=1.5,
                  showgrid=False, zeroline=False, fixedrange=True)
        if c == 5:
            xa.update(tickmode="array", tickvals=tickvals, ticktext=ticktext, tickangle=0,
                      ticks="outside", ticklen=7, tickwidth=1.2, tickcolor="#444",
                      showticklabels=True, tickfont=dict(size=11, color="#222"))
        else:
            xa.update(showticklabels=False, ticks="")
        ya = dict(domain=[py(bot), py(top)], range=p["yr"], anchor=xname,
                  tickmode="array", tickvals=p["yticks"], ticktext=[pct(v) for v in p["yticks"]],
                  ticks="outside", ticklen=8, tickwidth=1.2, tickcolor="#444",
                  tickfont=dict(size=11, color="#222"),
                  showline=True, mirror=True, linecolor=AX_LINE, linewidth=1.5,
                  showgrid=False, zeroline=False, fixedrange=True)
        layout["xaxis" if k == 1 else f"xaxis{k}"] = xa
        layout["yaxis" if k == 1 else f"yaxis{k}"] = ya

        for series, color, name in ((p["m"][c], MALE_COLOR, SEX_NAMES[0]),
                                    (p["f"][c], FEMALE_COLOR, SEX_NAMES[1])):
            vals = list(series)
            if len(vals) > n:
                raise ValueError(f"series too long in {p['title']} {COHORTS[c]}")
            vals = vals + [None] * (n - len(vals))
            # dashed connector across missing ages
            fig.add_trace(go.Scatter(x=idx, y=vals, xaxis=xname, yaxis=yname, mode="lines",
                                     connectgaps=True, name=name, hoverinfo="skip",
                                     line=dict(color=color, width=1.3, dash="5px,4px")))
            fig.add_trace(go.Scatter(x=idx, y=vals, xaxis=xname, yaxis=yname, mode="lines",
                                     connectgaps=False, name=name,
                                     line=dict(color=color, width=1.3)))
        annotations.append(dict(x=px(p["lab_x"]), y=py((top + bot) / 2), xref="paper", yref="paper",
                                text=f"<b>{COHORTS[c]}</b>", showarrow=False, textangle=90,
                                xanchor="center", yanchor="middle",
                                font=dict(size=15, color="#111", family="Liberation Sans, Arial")))
    mid = (p["top"] + p["top"] + 5 * p["gap"] + p["h"]) / 2
    annotations.append(dict(x=px(p["proc_x"]), y=py(mid), xref="paper", yref="paper",
                            text=f"<b>{Y_TITLE}</b>", showarrow=False, textangle=-90,
                            xanchor="center", yanchor="middle",
                            font=dict(size=16.5, color="#111", family="Liberation Sans, Arial")))
    annotations.append(dict(x=px(p["pok_x"]), y=py(mid), xref="paper", yref="paper",
                            text=f"<b>{ROW_TITLE}</b>", showarrow=False, textangle=90,
                            xanchor="center", yanchor="middle",
                            font=dict(size=16.5, color="#111", family="Liberation Sans, Arial")))
    ttxt = f"<b>{p['title']}</b>" if p["bold"] else p["title"]
    annotations.append(dict(x=px(p["tx"]), y=py(p["ty"]), xref="paper", yref="paper",
                            text=ttxt, showarrow=False, xanchor="center", yanchor="middle",
                            font=dict(size=32, color="black",
                                      family="Liberation Serif, Times New Roman, serif")))

# table grid
LINE = dict(color="black", width=2)
for yv in (12, 50, 547, 585):
    shapes.append(dict(type="line", xref="paper", yref="paper", x0=px(11), x1=px(1945),
                       y0=py(yv), y1=py(yv), line=LINE))
for xv in (11, 496, 979, 1466):
    shapes.append(dict(type="line", xref="paper", yref="paper", x0=px(xv), x1=px(xv),
                       y0=py(12), y1=py(1083), line=LINE))

# legend (drawn in the empty cell)
annotations.append(dict(x=px(260), y=py(623), xref="paper", yref="paper", text=LEGEND_TITLE,
                        showarrow=False, xanchor="center", yanchor="middle",
                        font=dict(size=22, color="#333", family="Liberation Sans, Arial")))
for j, (nm, col, wd) in enumerate(((SEX_NAMES[0], "#8e9bd5", 3.5), (SEX_NAMES[1], FEMALE_COLOR, 1.6))):
    yy = 661 + j * 25.5
    shapes.append(dict(type="line", xref="paper", yref="paper", x0=px(188), x1=px(228),
                       y0=py(yy), y1=py(yy), line=dict(color=col, width=wd)))
    annotations.append(dict(x=px(229), y=py(yy + 2), xref="paper", yref="paper", text=nm,
                            showarrow=False, xanchor="left", yanchor="middle",
                            font=dict(size=21, color="#333", family="Liberation Sans, Arial")))

layout["annotations"] = annotations
layout["shapes"] = shapes
fig.update_layout(**layout)

fig.write_html("out.html", config={"displayModeBar": False},
               post_script="document.body.style.margin='0';document.body.style.overflow='hidden';")
